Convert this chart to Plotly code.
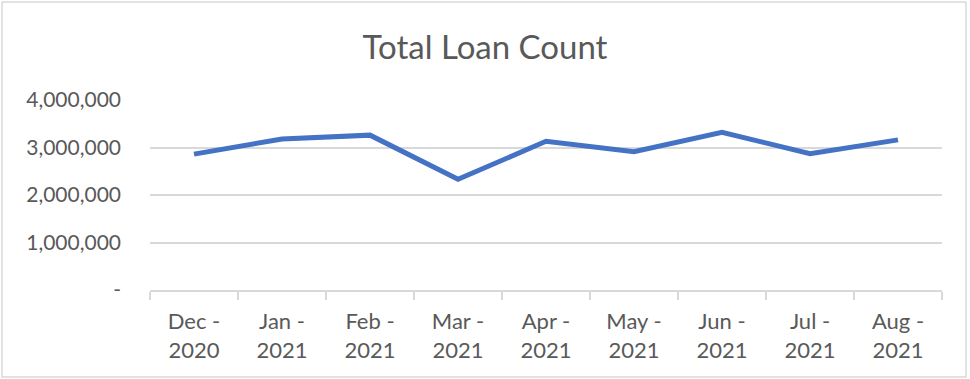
import plotly.graph_objects as go

months = ["Dec -<br>2020", "Jan -<br>2021", "Feb -<br>2021", "Mar -<br>2021", "Apr -<br>2021",
          "May -<br>2021", "Jun -<br>2021", "Jul -<br>2021", "Aug -<br>2021"]
loan_count = [2860000, 3180000, 3260000, 2330000, 3130000, 2910000, 3320000, 2870000, 3160000]

y_tickvals = [0, 1000000, 2000000, 3000000, 4000000]
y_ticktext = ["-", "1,000,000", "2,000,000", "3,000,000", "4,000,000"]

TXT = "#595959"
GRID = "#D9D9D9"
FONT = "Lato, Carlito, Calibri, sans-serif"

fig = go.Figure()
fig.add_trace(go.Scatter(
    x=months, y=loan_count, mode="lines",
    line=dict(color="#4472C4", width=5, shape="linear"),
    hoverinfo="x+y",
))

W, H = 970, 379
ml, mr, mt, mb = 150, 28, 100, 89
pw, ph = W - ml - mr, H - mt - mb

def px_to_paper_x(px):
    return (px - ml) / pw

def px_to_paper_y(py):
    return (H - mb - py) / ph

fig.update_layout(
    width=W, height=H,
    margin=dict(l=ml, r=mr, t=mt, b=mb),
    paper_bgcolor="white", plot_bgcolor="white",
    showlegend=False,
    font=dict(family=FONT, color=TXT, size=21),
    title=dict(text="Total Loan Count", x=0.5, xref="container", xanchor="center",
               y=1 - 47 / H, yref="container", yanchor="middle",
               font=dict(family=FONT, size=33, color=TXT)),
    xaxis=dict(
        type="category", showgrid=False, showline=True, linecolor=GRID, linewidth=1.5,
        ticks="outside", tickson="boundaries", ticklen=8, tickcolor=GRID, tickwidth=1.5,
        tickfont=dict(family=FONT, size=22, color=TXT), ticklabelstandoff=11,
        range=[-0.5, len(months) - 0.5], fixedrange=True,
    ),
    yaxis=dict(
        range=[0, 4000000], tickvals=y_tickvals, ticktext=y_ticktext,
        showgrid=True, gridcolor=GRID, gridwidth=1.5, zeroline=False,
        showline=False, ticks="", ticklabelstandoff=28,
        tickfont=dict(family=FONT, size=21, color=TXT), fixedrange=True,
    ),
    shapes=[dict(type="rect", xref="paper", yref="paper",
                 x0=px_to_paper_x(2), x1=px_to_paper_x(966),
                 y0=px_to_paper_y(377), y1=px_to_paper_y(2),
                 line=dict(color=GRID, width=1.5), fillcolor="rgba(0,0,0,0)", layer="below")],
)

fig.write_html("out.html")
